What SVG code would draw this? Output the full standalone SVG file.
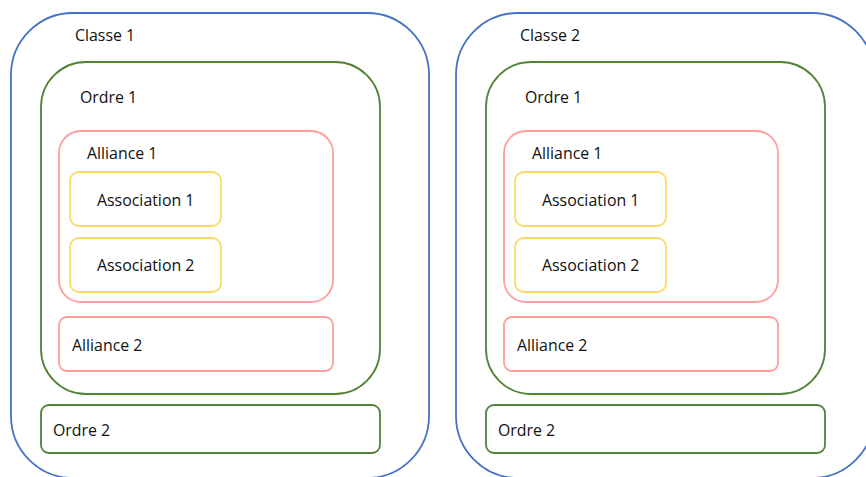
<svg xmlns="http://www.w3.org/2000/svg" width="866" height="477" viewBox="0 0 866 477">
<style>
text{font-family:"Segoe UI","Open Sans","Noto Sans",sans-serif;font-size:15.9px;fill:#111}
rect{fill:none;stroke-width:1.8}
.classe{stroke:#4472C4}
.ordre{stroke:#548235}
.alliance{stroke:#FF9E9E}
.assoc{stroke:#FFD966}
</style>
<rect width="866" height="477" fill="#fff" stroke="none"/>
<g id="classe1">
<rect class="classe" x="11" y="13" width="418" height="465" rx="62"/>
<text x="75" y="41">Classe 1</text>
<g id="c1-ordre1">
<rect class="ordre" x="41" y="62" width="339" height="332" rx="45"/>
<text x="80" y="103">Ordre 1</text>
<g id="c1-alliance1">
<rect class="alliance" x="59" y="131" width="274" height="171" rx="22"/>
<text x="87" y="159">Alliance 1</text>
<g id="c1-assoc1">
<rect class="assoc" x="70" y="172" width="151" height="54" rx="9"/>
<text x="97" y="206">Association 1</text>
</g>
<g id="c1-assoc2">
<rect class="assoc" x="70" y="238" width="151" height="54" rx="9"/>
<text x="97" y="271">Association 2</text>
</g>
</g>
<g id="c1-alliance2">
<rect class="alliance" x="59" y="317" width="274" height="54" rx="8"/>
<text x="72" y="351">Alliance 2</text>
</g>
</g>
<g id="c1-ordre2">
<rect class="ordre" x="41" y="405" width="339" height="48" rx="8"/>
<text x="53" y="436">Ordre 2</text>
</g>
</g>
<g id="classe2">
<rect class="classe" x="456" y="13" width="418" height="465" rx="62"/>
<text x="520" y="41">Classe 2</text>
<g id="c2-ordre1">
<rect class="ordre" x="486" y="62" width="339" height="332" rx="45"/>
<text x="525" y="103">Ordre 1</text>
<g id="c2-alliance1">
<rect class="alliance" x="504" y="131" width="274" height="171" rx="22"/>
<text x="532" y="159">Alliance 1</text>
<g id="c2-assoc1">
<rect class="assoc" x="515" y="172" width="151" height="54" rx="9"/>
<text x="542" y="206">Association 1</text>
</g>
<g id="c2-assoc2">
<rect class="assoc" x="515" y="238" width="151" height="54" rx="9"/>
<text x="542" y="271">Association 2</text>
</g>
</g>
<g id="c2-alliance2">
<rect class="alliance" x="504" y="317" width="274" height="54" rx="8"/>
<text x="517" y="351">Alliance 2</text>
</g>
</g>
<g id="c2-ordre2">
<rect class="ordre" x="486" y="405" width="339" height="48" rx="8"/>
<text x="498" y="436">Ordre 2</text>
</g>
</g>
<g id="connectors"/>
</svg>
